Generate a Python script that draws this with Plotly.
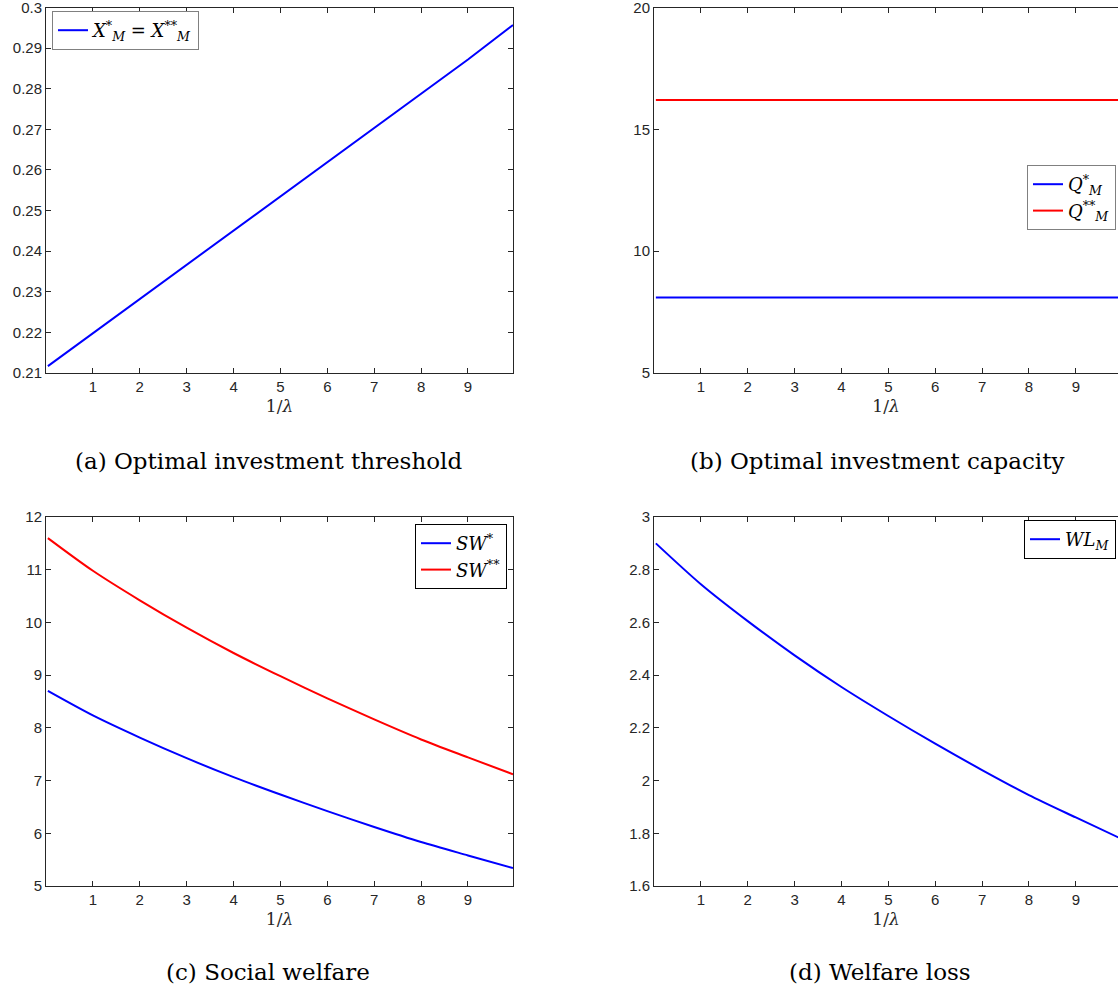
import plotly.graph_objects as go

# ---- data ----
inv_lambda = [0.04, 1, 2, 3, 4, 5, 6, 7, 8, 9, 9.96]
x_threshold = [0.2117, 0.2198, 0.2282, 0.2366, 0.2451, 0.2535, 0.2619, 0.2703, 0.2788, 0.2872, 0.2957]
q_star = [8.1] * 11
q_2star = [16.2] * 11
sw_star = [8.70, 8.235, 7.815, 7.425, 7.065, 6.735, 6.42, 6.12, 5.835, 5.58, 5.34]
sw_2star = [11.60, 10.98, 10.42, 9.90, 9.42, 8.98, 8.56, 8.16, 7.78, 7.44, 7.12]
wl = [2.90, 2.745, 2.605, 2.475, 2.355, 2.245, 2.140, 2.040, 1.945, 1.860, 1.780]

x_ticks = [1, 2, 3, 4, 5, 6, 7, 8, 9]
ya_ticks = [0.21, 0.22, 0.23, 0.24, 0.25, 0.26, 0.27, 0.28, 0.29, 0.3]
ya_text = ["0.21", "0.22", "0.23", "0.24", "0.25", "0.26", "0.27", "0.28", "0.29", "0.3"]
yb_ticks = [5, 10, 15, 20]
yc_ticks = [5, 6, 7, 8, 9, 10, 11, 12]
yd_ticks = [1.6, 1.8, 2.0, 2.2, 2.4, 2.6, 2.8, 3.0]
yd_text = ["1.6", "1.8", "2", "2.2", "2.4", "2.6", "2.8", "3"]

captions = ["(a) Optimal investment threshold", "(b) Optimal investment capacity",
            "(c) Social welfare", "(d) Welfare loss"]

W, H = 1118, 991
BLUE, RED = "#0000ff", "#ff0000"
AX = "#262626"

fig = go.Figure()

def tr(y, name, color, xa, ya, legend, shape="linear"):
    fig.add_trace(go.Scatter(x=inv_lambda, y=y, name=name, mode="lines",
                             line=dict(color=color, width=2, shape=shape, smoothing=0.8),
                             xaxis=xa, yaxis=ya, legend=legend))

tr(x_threshold, "<i>X</i><sup>*</sup><sub><i>M</i></sub> = <i>X</i><sup>**</sup><sub><i>M</i></sub>", BLUE, "x", "y", "legend")
tr(q_star, "<i>Q</i><sup>*</sup><sub><i>M</i></sub>", BLUE, "x2", "y2", "legend2")
tr(q_2star, "<i>Q</i><sup>**</sup><sub><i>M</i></sub>", RED, "x2", "y2", "legend2")
tr(sw_star, "<i>SW</i><sup>*</sup>", BLUE, "x3", "y3", "legend3", "spline")
tr(sw_2star, "<i>SW</i><sup>**</sup>", RED, "x3", "y3", "legend3", "spline")
tr(wl, "<i>WL</i><sub><i>M</i></sub>", BLUE, "x4", "y4", "legend4", "spline")

xl, xr = 46 / W, 513 / W
xl2 = 654 / W
top_dom = [(991 - 373) / H, (991 - 7.5) / H]
bot_dom = [(991 - 886) / H, (991 - 517) / H]

tickfont = dict(family="Liberation Sans, Arial", size=15, color=AX)
title_font = dict(family="DejaVu Serif, serif", size=17, color=AX)

def xaxis(dom, rng, anchor, mirror):
    return dict(domain=dom, range=rng, anchor=anchor, tickvals=x_ticks,
                ticks="inside", ticklen=5, tickcolor=AX, showline=True,
                linecolor=AX, linewidth=1, mirror=mirror, showgrid=False,
                zeroline=False, tickfont=tickfont, automargin=False,
                ticklabeloverflow="allow",
                title=dict(text="1/<i>λ</i>", font=title_font, standoff=6))

def yaxis(dom, rng, anchor, tv, tt, mirror):
    return dict(domain=dom, range=rng, anchor=anchor, tickvals=tv, ticktext=tt,
                ticks="inside", ticklen=5, tickcolor=AX, showline=True,
                linecolor=AX, linewidth=1, mirror=mirror, showgrid=False,
                zeroline=False, tickfont=tickfont, automargin=False,
                ticklabeloverflow="allow")

fig.update_layout(
    width=W, height=H, margin=dict(l=0, r=0, t=0, b=0, autoexpand=False),
    paper_bgcolor="white", plot_bgcolor="white", showlegend=True,
    xaxis=xaxis([xl, xr], [0, 9.96], "y", "ticks"),
    yaxis=yaxis(top_dom, [0.21, 0.3], "x", ya_ticks, ya_text, "ticks"),
    xaxis2=xaxis([xl2, 1.0], [0, 9.9], "y2", "ticks"),
    yaxis2=yaxis(top_dom, [5, 20], "x2", yb_ticks, [str(v) for v in yb_ticks], False),
    xaxis3=xaxis([xl, xr], [0, 9.96], "y3", "ticks"),
    yaxis3=yaxis(bot_dom, [5, 12], "x3", yc_ticks, [str(v) for v in yc_ticks], "ticks"),
    xaxis4=xaxis([xl2, 1.0], [0, 9.9], "y4", "ticks"),
    yaxis4=yaxis(bot_dom, [1.6, 3], "x4", yd_ticks, yd_text, False),
)

legfont = dict(family="DejaVu Serif, serif", size=18, color="black")
def leg(x, y, xanchor, border):
    return dict(x=x, y=y, xanchor=xanchor, yanchor="top", xref="paper", yref="paper",
                bgcolor="white", bordercolor=border, borderwidth=1, font=legfont,
                tracegroupgap=0, itemwidth=30, traceorder="normal")

fig.update_layout(
    legend=leg(52 / W, 1 - 11 / H, "left", "#808080"),
    legend2=leg(1116 / W, 1 - 165 / H, "right", "#808080"),
    legend3=leg(507 / W, 1 - 524 / H, "right", "#000000"),
    legend4=leg(1116 / W, 1 - 520 / H, "right", "#000000"),
)

cap_font = dict(family="DejaVu Serif, serif", size=23, color="black")
for text, cx, cy in zip(captions, [268, 877, 268, 880], [461, 461, 972, 972]):
    fig.add_annotation(text=text, x=cx / W, y=1 - cy / H, xref="paper", yref="paper",
                       showarrow=False, font=cap_font, xanchor="center", yanchor="middle")

fig.write_html("out.html")
